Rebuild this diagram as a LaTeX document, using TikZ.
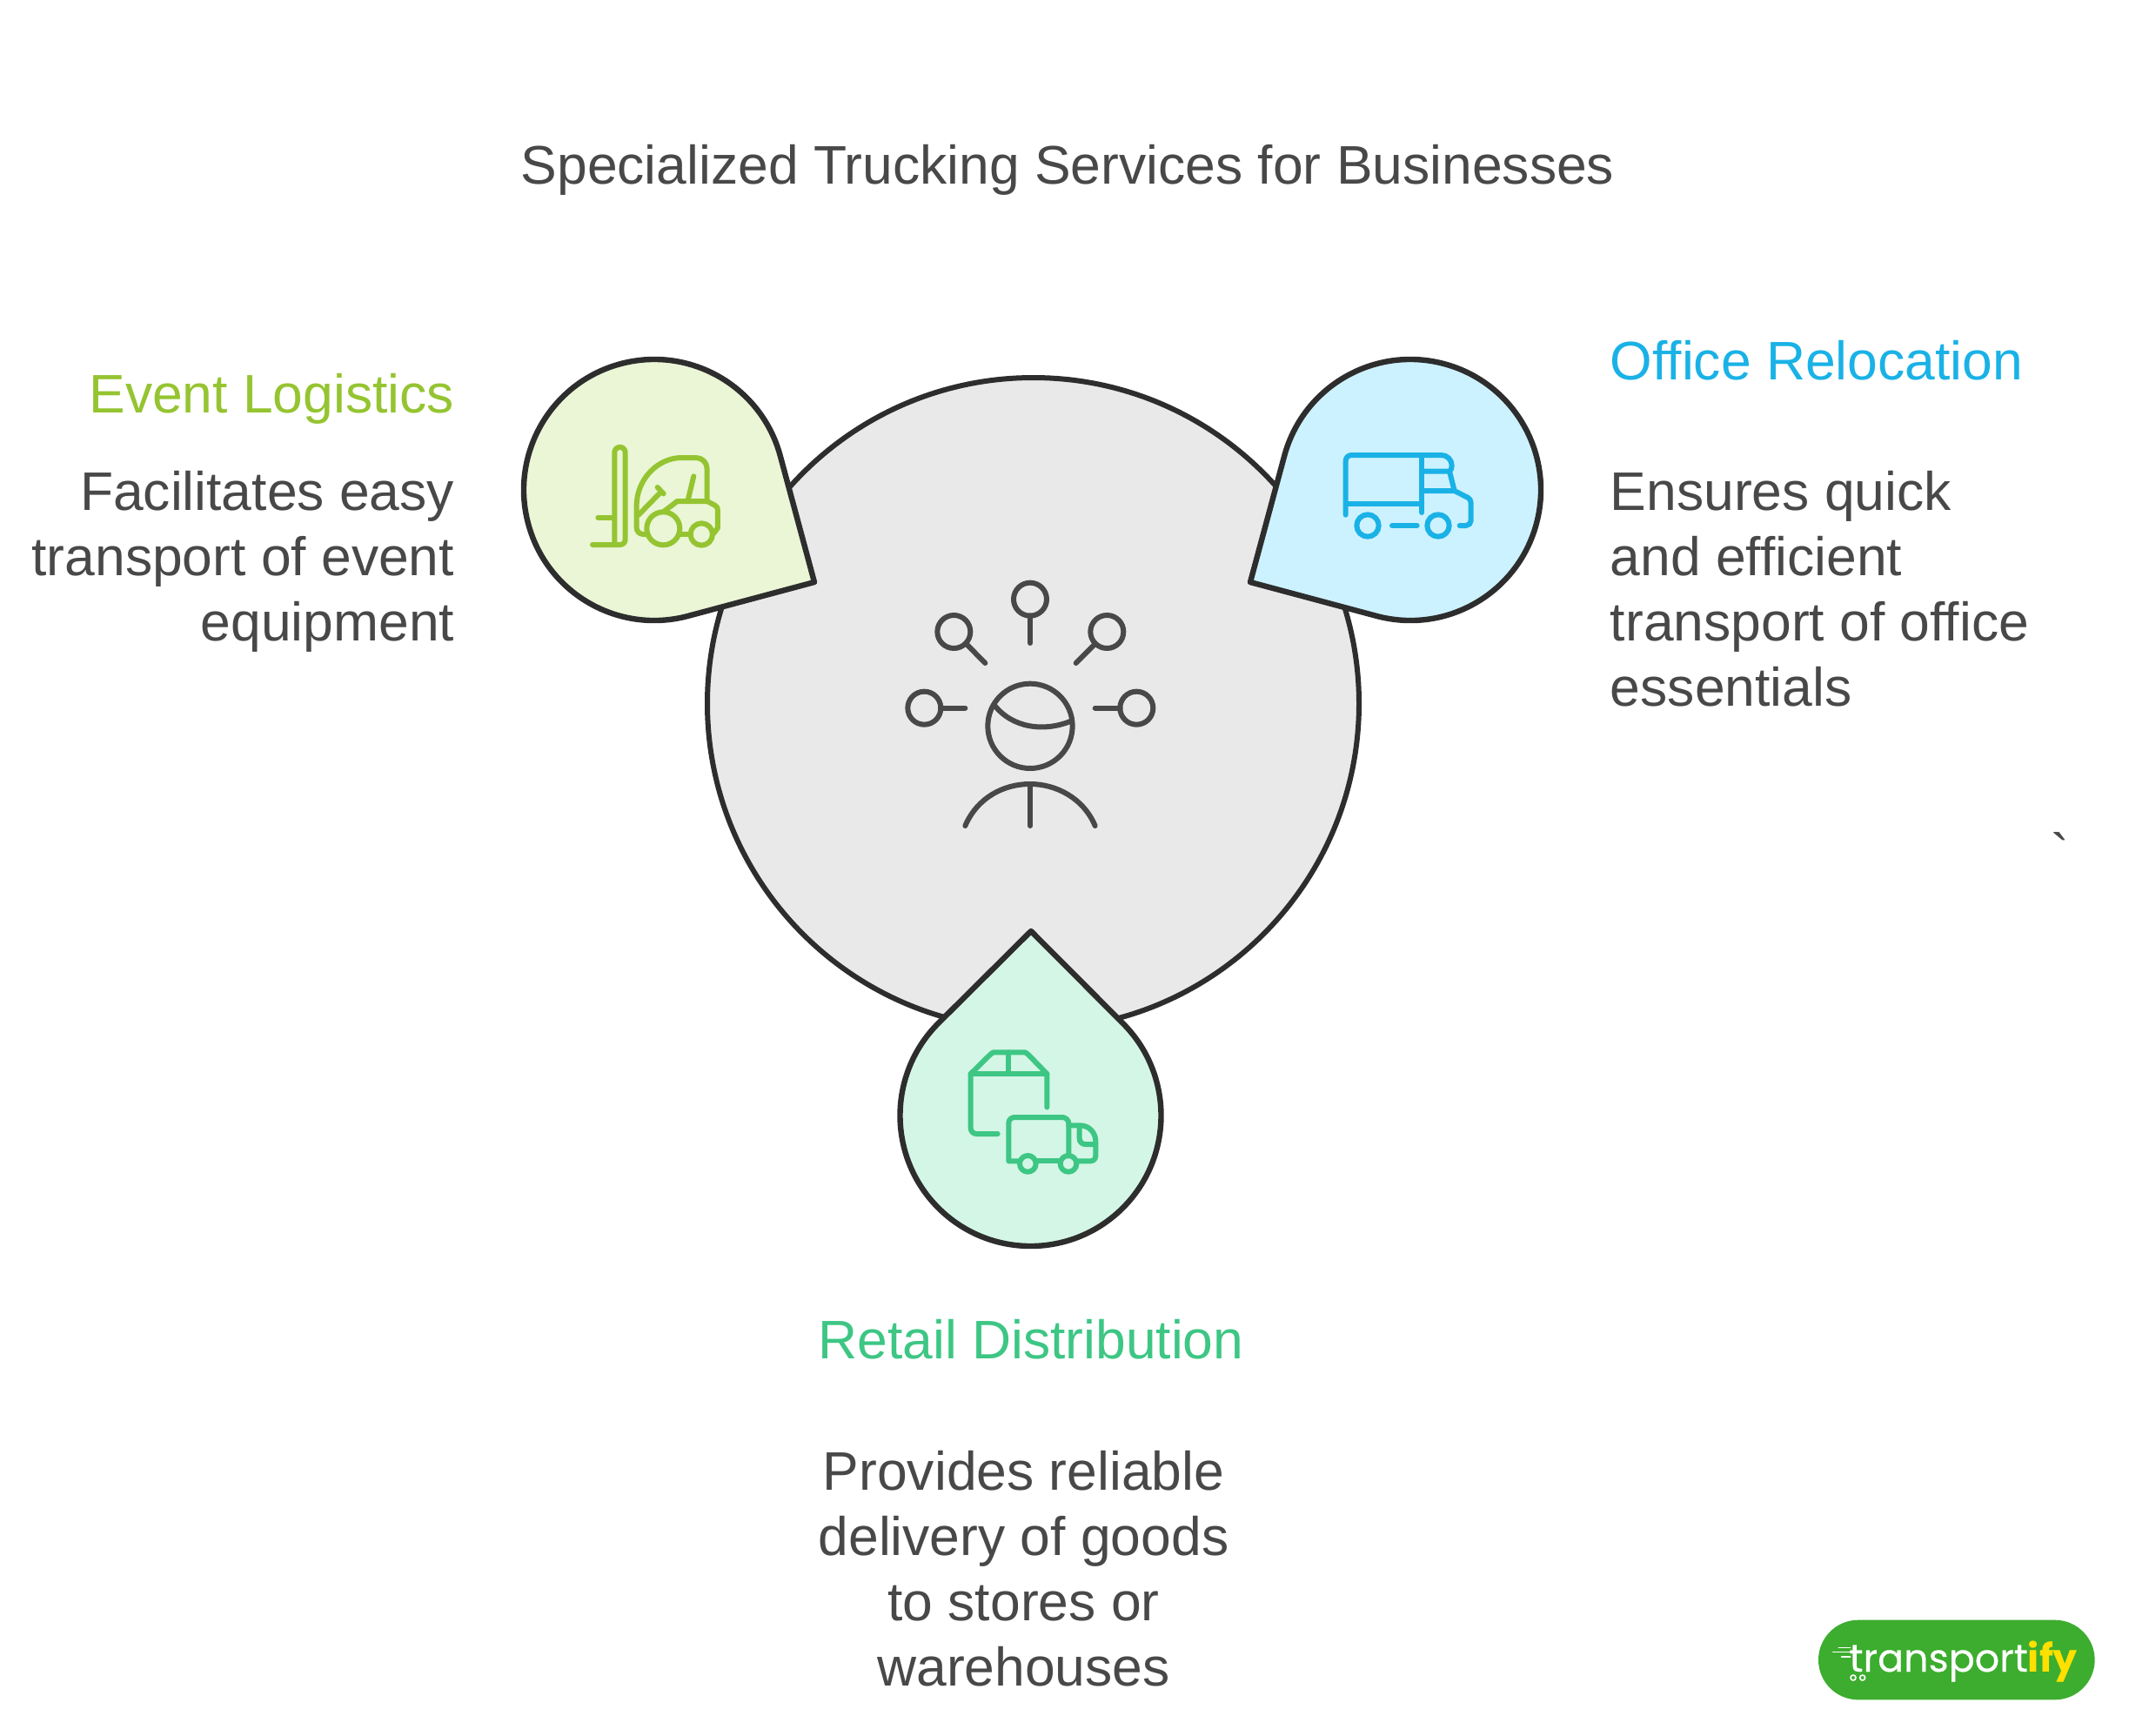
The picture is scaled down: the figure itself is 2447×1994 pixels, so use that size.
\documentclass[tikz,border=0pt]{standalone}
\usepackage{fontspec}
\setmainfont{Liberation Sans}
\newfontfamily\tickfont{Liberation Sans}
\newfontfamily\logofont{Poppins}
\definecolor{inkline}{HTML}{2D2D2D}
\definecolor{inktext}{HTML}{484848}
\definecolor{hubfill}{HTML}{E9E9E9}
\definecolor{limefill}{HTML}{EAF6D6}
\definecolor{limeink}{HTML}{95C431}
\definecolor{skyfill}{HTML}{CDF2FF}
\definecolor{skyink}{HTML}{1AB2E6}
\definecolor{mintfill}{HTML}{D4F6E6}
\definecolor{mintink}{HTML}{3DC684}
\definecolor{logogreen}{HTML}{3CAD2E}
\definecolor{logoyellow}{HTML}{FFE000}
\tikzset{
  outline/.style={draw=inkline,line width=3.2pt,line join=round},
  glyph/.style={line width=3pt,line cap=round,line join=round},
  heading/.style={inner sep=0pt,font=\fontsize{31.2}{37.5}\selectfont},
  bodytext/.style={heading,text=inktext},
}
% Teardrop: circle of radius 150 whose two tangents meet at a right-angled tip
\newcommand{\teardrop}[5]{%
  \path[outline,fill=#5] (#1,#2) ++(#3-45:150)
    arc[start angle=#3-45,end angle=#3+45-360,radius=150] -- (#4) -- cycle;
}
\begin{document}
\begin{tikzpicture}[x=1pt,y=1pt,xscale=.5,yscale=-.5]
\useasboundingbox (0,0) rectangle (2447,1994);

% Hub
\path[outline,line width=3pt,fill=hubfill] (1187.5,808.5) circle[radius=374.5];

% Teardrops
\coordinate (tipL) at (936,669);
\coordinate (tipR) at (1437,669);
\coordinate (tipB) at (1185,1070);
\teardrop{752}{563}{30}{tipL}{limefill}
\teardrop{1621}{563}{150}{tipR}{skyfill}
\teardrop{1184.5}{1282}{-90}{tipB}{mintfill}

% Person with surrounding pins
\begin{scope}[shift={(1020,650)},scale=1/3,glyph,draw=inktext]
  \foreach \px/\py in {492/116,229/228,757/228,127/491,859/491}
    \draw (\px,\py) circle[radius=57];
  \draw (492,172) -- (492,267);
  \draw (272,270) -- (337,336);
  \draw (714,272) -- (650,336);
  \draw (183,491) -- (268,491);
  \draw (803,491) -- (716,491);
  \draw (492,553) circle[radius=146];
  \draw (368,480) .. controls (430,560) and (540,575) .. (635,535);
  \draw (268,897) .. controls (310,800) and (400,753) .. (492,753)
        .. controls (580,753) and (675,800) .. (716,897);
  \draw (492,753) -- (492,897);
\end{scope}

% Forklift
\begin{scope}[shift={(580,390)},scale=1/3,glyph,draw=limeink]
  \draw (379,708) -- (379,390) arc[start angle=180,end angle=360,radius=18.5]
        -- (416,690) arc[start angle=0,end angle=90,radius=18] -- (303,708);
  \draw (322,614) -- (379,614);
  \draw (490,672) -- (478,672) arc[start angle=90,end angle=180,radius=23]
        -- (455,575) .. controls (455,480) and (530,408) .. (610,408)
        -- (660,408) arc[start angle=-90,end angle=0,radius=38] -- (698,558);
  \draw (547,652) circle[radius=57];
  \draw (679,672) circle[radius=38];
  \draw (606,672) -- (640,672);
  \draw (547,595) -- (585,566) -- (595,558) -- (698,558) -- (725,572)
        .. controls (733,576) and (735,582) .. (735,590) -- (735,650) -- (722,668);
  \draw (462,605) -- (540,525);
  \draw (527,510) -- (548,532);
  \draw (632,555) -- (652,472);
\end{scope}

% Delivery truck
\begin{scope}[shift={(1420,390)},scale=1/3,glyph,draw=skyink]
  \draw (380,605) -- (380,419) arc[start angle=180,end angle=270,radius=20]
        -- (710,399) arc[start angle=-90,end angle=0,radius=36] -- (746,435)
        .. controls (746,445) and (744,450) .. (738,455);
  \draw (380,567) -- (643,567);
  \draw (643,399) -- (643,597);
  \draw (643,455) -- (738,455) -- (755,522);
  \draw (643,522) -- (755,522) -- (802,546)
        .. controls (809,550) and (812,556) .. (812,565) -- (812,625)
        arc[start angle=0,end angle=90,radius=17] -- (773,642);
  \draw (456,642) circle[radius=38];
  \draw (699,642) circle[radius=38];
  \draw (540,642) -- (626,642);
\end{scope}

% Parcel and van
\begin{scope}[shift={(1020,1180)},scale=1/3,glyph,draw=mintink]
  \draw (380,369) -- (307,369) arc[start angle=90,end angle=180,radius=20] -- (287,162)
        -- (355,95) -- (365,88) -- (475,88) -- (485,95) -- (550,162) -- (550,277);
  \draw (287,162) -- (550,162);
  \draw (418,88) -- (418,162);
  \draw (450,463) -- (418,463) -- (418,332) arc[start angle=180,end angle=270,radius=20]
        -- (603,312) arc[start angle=-90,end angle=0,radius=22] -- (625,445);
  \draw (625,340) -- (665,340) .. controls (695,340) and (718,365) .. (718,395)
        -- (718,445) arc[start angle=0,end angle=90,radius=18] -- (655,463);
  \draw (516,463) -- (592,463);
  \draw (484,472) circle[radius=28];
  \draw (624,472) circle[radius=28];
  \draw (662,345) -- (662,385) arc[start angle=180,end angle=90,radius=20] -- (718,405);
\end{scope}

% Texts
\node[heading,text=inktext,anchor=base] (title) at (1227,211) {Specialized Trucking Services for Businesses};

\node[heading,text=limeink,anchor=base east] (eventhead) at (522.5,474) {Event Logistics};
\node[bodytext,align=right,anchor=base east] (eventbody) at (522.5,736) {Facilitates easy\\transport of event\\equipment};

\node[heading,text=skyink,anchor=base west] (officehead) at (1850.5,436) {Office Relocation};
\node[bodytext,align=left,anchor=base west] (officebody) at (1850.5,811) {Ensures quick\\and efficient\\transport of office\\essentials};

\node[heading,text=mintink,anchor=base] (retailhead) at (1185,1561.5) {Retail Distribution};
\node[bodytext,align=center,anchor=base] (retailbody) at (1176.5,1937) {Provides reliable\\delivery of goods\\to stores or\\warehouses};

\node[bodytext,anchor=base] (tick) at (2368,1002) {\tickfont `};

% Logo badge
\begin{scope}[shift={(2070,1840)},scale=1/3]
  \path[fill=logogreen,rounded corners=22.9pt] (60,65) rectangle (1013,340);
  \node[inner sep=0pt,anchor=base west,font=\logofont\fontsize{22.2}{28}\selectfont] (logoword) at (165,243)
    {\textcolor{white}{\addfontfeature{FakeBold=0.4}transport}\textcolor{logoyellow}{\bfseries ify}};
  \draw[white,line width=.8pt,line cap=round] (110,176) -- (170,176);
  \draw[white,line width=.8pt,line cap=round] (130,160) -- (170,160);
  \draw[white,line width=.8pt,line cap=round] (140,192) -- (170,192);
  \draw[white,line width=.8pt] (180,264) circle[radius=9] (212,264) circle[radius=9];
\end{scope}
\end{tikzpicture}
\end{document}
